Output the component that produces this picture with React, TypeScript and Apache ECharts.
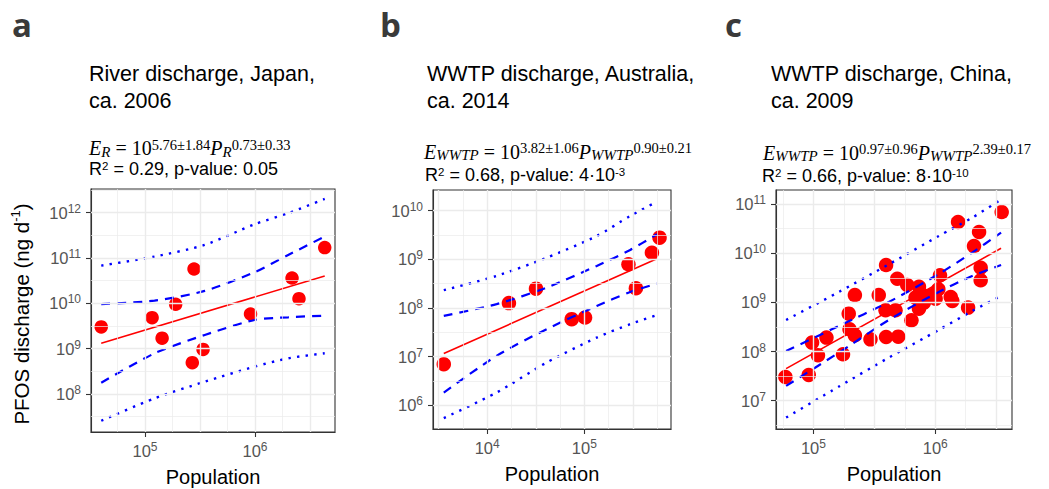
import React, { useEffect, useRef } from "react";
import * as echarts from "echarts";

// ---------- Panel a: River discharge, Japan, ca. 2006 ----------
const popA = [4.0e4, 1.16e5, 1.43e5, 1.9e5, 2.79e5, 2.69e5, 3.37e5, 9.1e5, 2.17e6, 2.51e6, 4.3e6];
const pfosA = [3.0e9, 4.8e9, 1.7e9, 9.5e9, 5.7e10, 4.9e8, 9.6e8, 5.8e9, 3.6e10, 1.26e10, 1.69e11];
const fitPopA = [4.0e4, 4.3e6];
const fitA = [1.31e9, 4.0e10];
const bandPopA = [4.0e4, 1.22e5, 3.49e5, 9.9e5, 2.0e6, 4.3e6];
const confHiA = [9.6e9, 1.14e10, 1.87e10, 4.83e10, 1.16e11, 2.96e11];
const confLoA = [1.77e8, 7.85e8, 2.0e9, 4.28e9, 4.9e9, 5.33e9];
const predHiA = [6.76e10, 1.07e11, 1.94e11, 5.53e11, 9.68e11, 2.0e12];
const predLoA = [2.56e7, 7.98e7, 1.86e8, 3.99e8, 6.1e8, 7.87e8];
const xTicksA = [5, 6];
const yTicksA = [8, 9, 10, 11, 12];
const xRangeA = [4.509, 6.727];
const yRangeA = [7.16, 12.52];

// ---------- Panel b: WWTP discharge, Australia, ca. 2014 ----------
const popB = [3580, 16750, 31800, 74100, 1.016e5, 2.84e5, 3.39e5, 4.95e5, 5.93e5];
const pfosB = [7.0e6, 1.26e8, 2.5e8, 5.9e7, 6.35e7, 7.9e8, 2.55e8, 1.37e9, 2.79e9];
const fitPopB = [3580, 5.57e5];
const fitB = [1.16e7, 1.03e9];
const bandPopB = [3580, 12500, 40900, 1.34e5, 2.96e5, 5.57e5];
const confHiB = [6.89e7, 1.2e8, 2.62e8, 7.31e8, 1.56e9, 3.27e9];
const confLoB = [1.83e6, 1.04e7, 3.67e7, 1.1e8, 2.14e8, 3.17e8];
const predHiB = [2.32e8, 4.56e8, 1.08e9, 3.02e9, 7.78e9, 1.53e10];
const predLoB = [5.46e5, 1.83e6, 7.57e6, 2.47e7, 4.65e7, 7.11e7];
const xTicksB = [4, 5];
const yTicksB = [6, 7, 8, 9, 10];
const xRangeB = [3.443, 5.891];
const yRangeB = [5.513, 10.425];

// ---------- Panel c: WWTP discharge, China, ca. 2009 ----------
const popC = [
  58900, 91600, 97500, 1.09e5, 1.28e5, 1.75e5, 1.95e5, 1.98e5, 2.19e5, 2.19e5,
  2.94e5, 3.44e5, 3.91e5, 3.95e5, 3.95e5, 4.72e5, 4.88e5, 4.97e5, 5.89e5, 6.38e5,
  7.35e5, 7.35e5, 8.07e5, 9.33e5, 1.007e6, 1.06e6, 1.094e6, 1.34e6, 1.38e6, 1.54e6,
  1.86e6, 2.08e6, 2.29e6, 2.36e6, 2.36e6, 3.51e6, 8.32e5, 6.89e5,
];
const pfosC = [
  3.05e7, 3.34e7, 1.52e8, 8.4e7, 1.92e8, 8.8e7, 5.9e8, 2.83e8, 2.14e8, 1.41e9,
  1.77e8, 1.41e9, 6.9e8, 5.75e9, 1.98e8, 6.9e8, 3.03e9, 2.01e8, 2.26e9, 4.32e8,
  2.08e9, 7.46e8, 9.89e8, 1.39e9, 1.19e9, 1.85e9, 3.55e9, 1.29e9, 1.07e9, 4.31e10,
  7.82e8, 1.4e10, 2.7e10, 5.08e9, 2.81e9, 6.87e10, 1.35e9, 1.25e9,
];
const fitPopC = [59700, 3.47e6];
const fitC = [4.5e7, 1.26e10];
const bandPopC = [59700, 1.62e5, 4.16e5, 1.07e6, 2.01e6, 3.47e6];
const confHiC = [1.03e8, 3.31e8, 1.02e9, 3.78e9, 1.03e10, 2.61e10];
const confLoC = [2.0e7, 9.51e7, 4.39e8, 1.63e9, 3.44e9, 5.75e9];
const predHiC = [4.39e8, 1.63e9, 5.94e9, 2.24e10, 5.27e10, 1.24e11];
const predLoC = [4.54e6, 1.94e7, 7.53e7, 2.75e8, 6.68e8, 1.35e9];
const xTicksC = [5, 6];
const yTicksC = [7, 8, 9, 10, 11];
const xRangeC = [4.693, 6.63];
const yRangeC = [6.425, 11.285];

const SANS = "'Liberation Sans', Arial, sans-serif";
const SERIF = "'Liberation Serif', 'Times New Roman', serif";

const lg = (v: number) => Math.log10(v);
const pairs = (xs: number[], ys: number[]) => xs.map((x, i) => [lg(x), lg(ys[i])]);

const steps = (min: number, max: number, step: number) => {
  const out: number[] = [];
  for (let k = Math.ceil(min / step - 1e-9); k * step <= max + 1e-9; k++) out.push(+(k * step).toFixed(4));
  return out;
};

const panels = [
  {
    grid: { left: 91, top: 189, width: 244, height: 243 },
    xr: xRangeA, yr: yRangeA, xt: xTicksA, yt: yTicksA,
    pop: popA, pfos: pfosA, fitPop: fitPopA, fit: fitA, bandPop: bandPopA,
    confHi: confHiA, confLo: confLoA, predHi: predHiA, predLo: predLoA, size: 13.5,
  },
  {
    grid: { left: 433, top: 190, width: 238, height: 239 },
    xr: xRangeB, yr: yRangeB, xt: xTicksB, yt: yTicksB,
    pop: popB, pfos: pfosB, fitPop: fitPopB, fit: fitB, bandPop: bandPopB,
    confHi: confHiB, confLo: confLoB, predHi: predHiB, predLo: predLoB, size: 14.5,
  },
  {
    grid: { left: 776, top: 190, width: 236, height: 239 },
    xr: xRangeC, yr: yRangeC, xt: xTicksC, yt: yTicksC,
    pop: popC, pfos: pfosC, fitPop: fitPopC, fit: fitC, bandPop: bandPopC,
    confHi: confHiC, confLo: confLoC, predHi: predHiC, predLo: predLoC, size: 14.5,
  },
];

const tickRich = {
  m: { fontSize: 16.5, color: "#555555", fontFamily: SANS, lineHeight: 20 },
  s: { fontSize: 12, color: "#555555", fontFamily: SANS, verticalAlign: "top" },
};
const tickFmt = (v: number) =>
  Math.abs(v - Math.round(v)) < 1e-6 ? `{m|10}{s|${Math.round(v)}}` : "";

const eqRich = {
  v: { fontFamily: SERIF, fontStyle: "italic", fontSize: 20, lineHeight: 22, fill: "#000" },
  o: { fontFamily: SERIF, fontSize: 20, lineHeight: 22, fill: "#000" },
  vs: { fontFamily: SERIF, fontStyle: "italic", fontSize: 15, lineHeight: 13, verticalAlign: "bottom", fill: "#000" },
  sp: { fontFamily: SERIF, fontSize: 14.5, verticalAlign: "top", fill: "#000" },
};
const statRich = {
  n: { fontFamily: SANS, fontSize: 18, lineHeight: 18, fill: "#000" },
  s: { fontFamily: SANS, fontSize: 11.5, verticalAlign: "top", fill: "#000" },
};

const titles = ["River discharge, Japan,\nca. 2006", "WWTP discharge, Australia,\nca. 2014", "WWTP discharge, China,\nca. 2009"];
const letters = ["a", "b", "c"];
const equations = [
  "{v|E}{vs|R}{o| = 10}{sp|5.76±1.84}{v|P}{vs|R}{sp|0.73±0.33}",
  "{v|E}{vs|WWTP}{o| = 10}{sp|3.82±1.06}{v|P}{vs|WWTP}{sp|0.90±0.21}",
  "{v|E}{vs|WWTP}{o| = 10}{sp|0.97±0.96}{v|P}{vs|WWTP}{sp|2.39±0.17}",
];
const stats = [
  "{n|R}{s|2}{n| = 0.29, p-value: 0.05}",
  "{n|R}{s|2}{n| = 0.68, p-value: 4·10}{s|-3}",
  "{n|R}{s|2}{n| = 0.66, p-value: 8·10}{s|-10}",
];

export default function App() {
  const ref = useRef<HTMLDivElement>(null);
  useEffect(() => {
    if (!ref.current) return;
    const chart = echarts.init(ref.current, undefined, { renderer: "svg" });

    const series: any[] = [];
    panels.forEach((p, i) => {
      const vx = steps(p.xr[0], p.xr[1], 0.25).map((v) => ({
        xAxis: v,
        lineStyle: { color: "#ebebeb", width: Math.abs(v * 2 - Math.round(v * 2)) < 1e-6 ? 1.4 : 0.7, type: "solid" },
      }));
      const hy = steps(p.yr[0], p.yr[1], 0.5).map((v) => ({
        yAxis: v,
        lineStyle: { color: "#ebebeb", width: Math.abs(v - Math.round(v)) < 1e-6 ? 1.4 : 0.7, type: "solid" },
      }));
      series.push({
        type: "line", xAxisIndex: i, yAxisIndex: i, data: [], z: 1, silent: true,
        markLine: { silent: true, symbol: ["none", "none"], label: { show: false }, animation: false, data: [...vx, ...hy] },
      });
      series.push({
        type: "scatter", xAxisIndex: i, yAxisIndex: i, z: 2, silent: true,
        data: pairs(p.pop, p.pfos), symbol: "circle", symbolSize: p.size,
        itemStyle: { color: "#ff0000", opacity: 1 },
      });
      const lineS = (ys: number[], xs: number[], style: any) => ({
        type: "line", xAxisIndex: i, yAxisIndex: i, z: 3, silent: true, showSymbol: false, symbol: "none",
        smooth: 0.25, data: pairs(xs, ys), lineStyle: style,
      });
      series.push(lineS(p.predHi, p.bandPop, { color: "#0000ff", width: 2.4, type: [2.4, 6.2], cap: "butt" }));
      series.push(lineS(p.predLo, p.bandPop, { color: "#0000ff", width: 2.4, type: [2.4, 6.2], cap: "butt" }));
      series.push(lineS(p.confHi, p.bandPop, { color: "#0000ff", width: 2.2, type: [9, 7] }));
      series.push(lineS(p.confLo, p.bandPop, { color: "#0000ff", width: 2.2, type: [9, 7] }));
      series.push({ ...lineS(p.fit, p.fitPop, { color: "#ff0000", width: 1.6, type: "solid" }), smooth: false });
    });

    const graphic: any[] = [];
    const letterX = [12, 380, 725];
    const titleX = [89, 427, 771];
    const eqX = [89, 424, 763];
    const eqY = [148, 151.5, 152.8];
    const statX = [89, 425, 762];
    const statY = [168.5, 175, 176.2];
    for (let i = 0; i < 3; i++) {
      graphic.push({
        type: "text", x: letterX[i], y: 24, silent: true,
        style: { text: letters[i], fontFamily: "'Open Sans', sans-serif", fontWeight: "bold", fontSize: 33, fill: "#3a3a3a", align: "left", verticalAlign: "middle" },
      });
      graphic.push({
        type: "text", x: titleX[i], y: 60, silent: true,
        style: { text: titles[i], fontFamily: SANS, fontSize: 21.5, lineHeight: 27, fill: "#000", align: "left", verticalAlign: "top" },
      });
      graphic.push({
        type: "text", x: eqX[i], y: eqY[i], silent: true,
        style: { text: equations[i], rich: eqRich, align: "left", verticalAlign: "middle", fill: "#000" },
      });
      graphic.push({
        type: "text", x: statX[i], y: statY[i], silent: true,
        style: { text: stats[i], rich: statRich, align: "left", verticalAlign: "middle", fill: "#000" },
      });
    }
    graphic.push({
      type: "text", x: 21, y: 314, rotation: Math.PI / 2, silent: true,
      style: {
        text: "{n|PFOS discharge (ng d}{s|-1}{n|)}",
        rich: {
          n: { fontFamily: SANS, fontSize: 20.5, lineHeight: 24, fill: "#000" },
          s: { fontFamily: SANS, fontSize: 13, verticalAlign: "top", fill: "#000" },
        },
        align: "center", verticalAlign: "middle",
      },
    });

    chart.setOption({
      animation: false,
      backgroundColor: "#ffffff",
      grid: panels.map((p) => ({
        ...p.grid, show: true, backgroundColor: "#ffffff", borderColor: "#333333", borderWidth: 1.1,
        containLabel: false, outerBoundsMode: "none",
      })),
      xAxis: panels.map((p, i) => ({
        type: "value", gridIndex: i, min: p.xr[0], max: p.xr[1],
        axisLine: { show: true, onZero: false, lineStyle: { color: "#333333", width: 1.1 } },
        splitLine: { show: false },
        axisTick: { show: true, customValues: p.xt, length: 5, lineStyle: { color: "#333333", width: 1.1 } },
        axisLabel: { customValues: p.xt, formatter: tickFmt, rich: tickRich, margin: 9 },
        name: "Population", nameLocation: "middle", nameGap: 35,
        nameTextStyle: { fontFamily: SANS, fontSize: 20, color: "#000" },
      })),
      yAxis: panels.map((p, i) => ({
        type: "value", gridIndex: i, min: p.yr[0], max: p.yr[1],
        axisLine: { show: true, onZero: false, lineStyle: { color: "#333333", width: 1.1 } },
        splitLine: { show: false },
        axisTick: { show: true, customValues: p.yt, length: 5, lineStyle: { color: "#333333", width: 1.1 } },
        axisLabel: { customValues: p.yt, formatter: tickFmt, rich: tickRich, margin: 10 },
      })),
      series,
      graphic,
    });
    return () => chart.dispose();
  }, []);
  return <div ref={ref} style={{ position: "fixed", left: 0, top: 0, width: 1049, height: 489 }} />;
}
